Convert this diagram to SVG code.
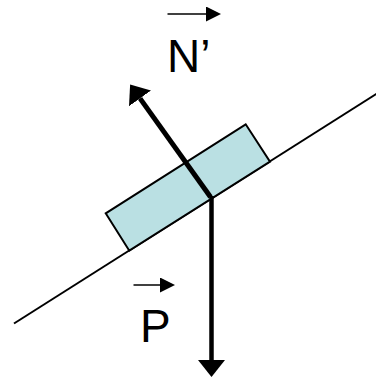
<svg xmlns="http://www.w3.org/2000/svg" width="376" height="377" viewBox="0 0 376 377">
  <style>
    .lbl { font-family: "Liberation Sans", Arial, sans-serif; font-size: 46px; fill: #000; }
    .vec { stroke: #000; stroke-width: 1.5; fill: none; }
    .force { stroke: #000; fill: none; }
  </style>
  <defs>
    <marker id="bigHead" markerUnits="userSpaceOnUse" viewBox="0 0 17 27" markerWidth="17" markerHeight="27" refX="0" refY="13.5" orient="auto">
      <path d="M0,0 L17,13.5 L0,27 Z" fill="#000"/>
    </marker>
    <marker id="smallHead" markerUnits="userSpaceOnUse" viewBox="0 0 15 15" markerWidth="15" markerHeight="15" refX="0" refY="7.5" orient="auto">
      <path d="M0,0 L15,7.5 L0,15 Z" fill="#000"/>
    </marker>
  </defs>
  <rect width="376" height="377" fill="#fff"/>
  <g id="incline">
    <line x1="14" y1="323.5" x2="378" y2="92.8" stroke="#000" stroke-width="2"/>
  </g>
  <g id="block">
    <polygon points="105.7,213.3 129.3,250.7 270,161.7 245.7,124.3" fill="#bae0e3" stroke="#000" stroke-width="2"/>
  </g>
  <g id="connectors">
    <line class="force" x1="210.5" y1="197" x2="140" y2="98.4" stroke-width="5" marker-end="url(#bigHead)"/>
    <line class="force" x1="211.5" y1="196" x2="211.5" y2="360" stroke-width="4.5" marker-end="url(#bigHead)"/>
  </g>
  <g id="label-N">
    <line class="vec" x1="167.5" y1="14" x2="206" y2="14" marker-end="url(#smallHead)"/>
    <text class="lbl" x="167" y="72">N’</text>
  </g>
  <g id="label-P">
    <line class="vec" x1="133.5" y1="285" x2="160" y2="285" marker-end="url(#smallHead)"/>
    <text class="lbl" x="140" y="342">P</text>
  </g>
</svg>
